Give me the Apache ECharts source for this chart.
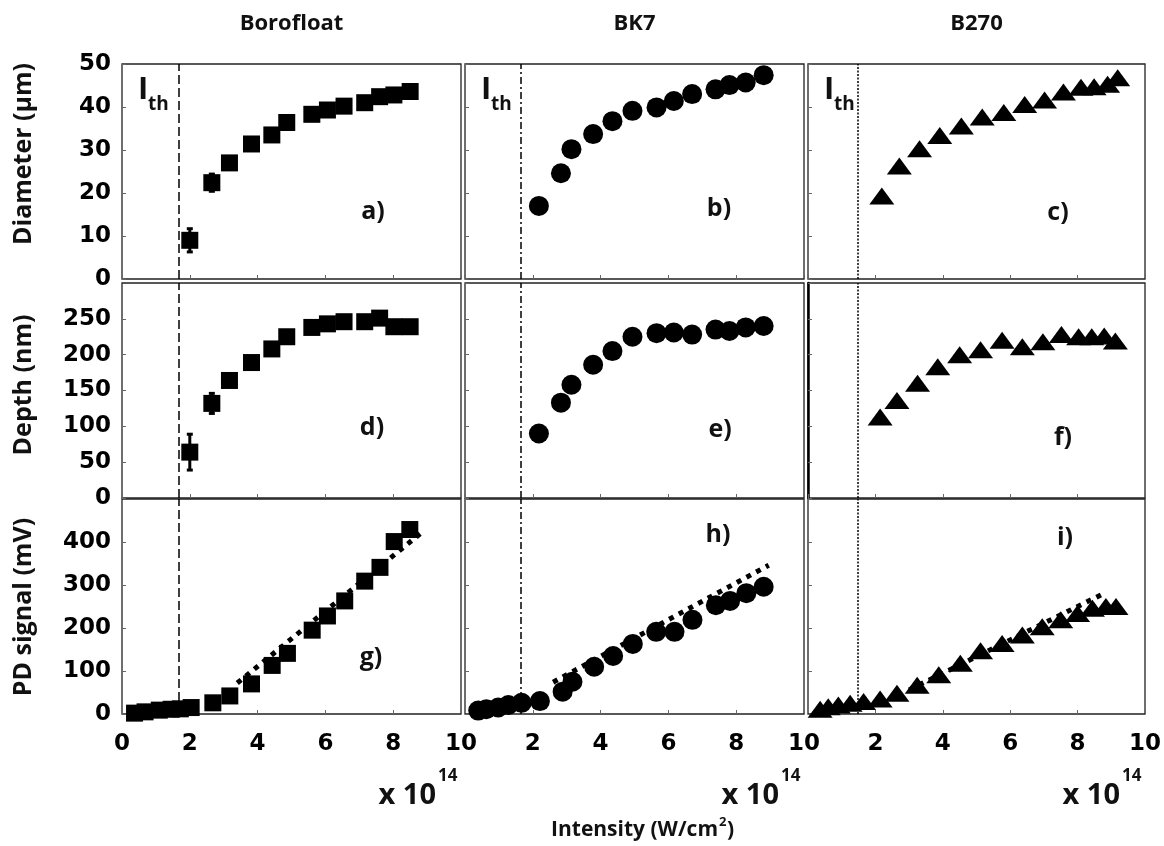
<!DOCTYPE html>
<html>
<head>
<meta charset="utf-8">
<script src="https://cdn.jsdelivr.net/npm/echarts@6/dist/echarts.min.js"></script>
<style>
  html, body { margin: 0; background: #fff; }
  #main { width: 1164px; height: 846px; }
</style>
</head>
<body>
<div id="main"></div>
<script>
// glass types (columns) and quantities (rows)
const glasses = ['Borofloat', 'BK7', 'B270'];
const rowNames = ['Diameter (µm)', 'Depth (nm)', 'PD signal (mV)'];
const panelTags = [['a)', 'b)', 'c)'], ['d)', 'e)', 'f)'], ['g)', 'h)', 'i)']];
const xTicks = [0, 2, 4, 6, 8, 10];
const yMax = [50, 300, 500];
const yStep = [10, 50, 100];
const threshold = [1.67, 1.65, 1.47];   // I_th, x 10^14 W/cm2

// Borofloat
const boroX = [2.0, 2.65, 3.17, 3.82, 4.42, 4.86, 5.6, 6.06, 6.55, 7.16, 7.6, 8.02, 8.5];
const boroDiam = [9, 22.4, 27.0, 31.4, 33.5, 36.4, 38.3, 39.3, 40.2, 41.0, 42.4, 42.8, 43.6];
const boroDiamErr = [2.7, 2.0, 0, 0, 0, 0, 0, 0, 0, 0, 0, 0, 0];
const boroDepth = [64, 132, 164, 189, 208, 225, 238, 243, 246, 246, 251, 239, 239];
const boroDepthErr = [25, 14, 0, 0, 0, 0, 0, 0, 0, 0, 0, 0, 0];
const boroPdX = [0.37, 0.68, 1.1, 1.45, 1.72, 2.04, 2.68, 3.18, 3.82, 4.43, 4.88, 5.61, 6.06, 6.57, 7.16, 7.61, 8.03, 8.49];
const boroPd = [2, 5, 9, 11, 12, 15, 26, 42, 70, 113, 141, 195, 228, 263, 309, 341, 401, 429];
const boroFitX = [3.4, 8.9];
const boroFit = [72, 426];

// BK7
const bk7X = [2.18, 2.83, 3.14, 3.78, 4.35, 4.94, 5.65, 6.16, 6.70, 7.39, 7.80, 8.28, 8.81];
const bk7Diam = [17.0, 24.6, 30.2, 33.7, 36.7, 39.1, 39.9, 41.4, 43.0, 44.1, 45.1, 45.7, 47.4];
const bk7Depth = [90, 133, 158, 186, 205, 225, 230, 231, 228, 235, 233, 238, 240];
const bk7PdX = [0.39, 0.63, 0.98, 1.28, 1.67, 2.21, 2.88, 3.17, 3.81, 4.37, 4.95, 5.64, 6.18, 6.71, 7.40, 7.82, 8.30, 8.81];
const bk7Pd = [8, 11, 15, 21, 26, 30, 52, 75, 110, 135, 163, 191, 191, 219, 253, 263, 281, 296];
const bk7FitX = [2.6, 8.96];
const bk7Fit = [74, 346];

// B270
const b270X = [2.19, 2.71, 3.31, 3.91, 4.55, 5.17, 5.81, 6.43, 7.02, 7.58, 8.10, 8.49, 8.89, 9.19];
const b270Diam = [19.3, 26.3, 30.3, 33.4, 35.6, 37.7, 38.7, 40.6, 41.6, 43.5, 44.6, 44.7, 45.3, 46.8];
const b270DepthX = [2.14, 2.64, 3.25, 3.85, 4.50, 5.12, 5.76, 6.36, 6.97, 7.52, 8.03, 8.42, 8.79, 9.12];
const b270Depth = [113, 136, 160, 183, 200, 207, 220, 211, 218, 228, 225, 225, 226, 219];
const b270PdX = [0.36, 0.60, 0.90, 1.25, 1.65, 2.14, 2.64, 3.24, 3.88, 4.52, 5.12, 5.76, 6.36, 6.95, 7.50, 8.00, 8.44, 8.84, 9.14];
const b270Pd = [11, 17, 21, 25, 29, 35, 48, 67, 91, 118, 147, 164, 184, 203, 219, 234, 246, 250, 250];
const b270FitX = [3.0, 8.8];
const b270Fit = [56, 281];

const zip = (xs, ys) => xs.map((x, i) => [x, ys[i]]);

const colLeft = [122, 465, 808];
const colWidth = [339, 339, 337];
const rowTop = [64, 283, 499];
const rowHeight = [215, 215, 215];

const markers = [
  { symbol: 'rect', symbolSize: 17 },
  { symbol: 'circle', symbolSize: 20 },
  { symbol: 'triangle', symbolSize: [25, 17] }
];
const thLineType = [[9, 4], [7, 3, 2, 3], [2, 1.5]];

const panelData = [
  [zip(boroX, boroDiam), zip(bk7X, bk7Diam), zip(b270X, b270Diam)],
  [zip(boroX, boroDepth), zip(bk7X, bk7Depth), zip(b270DepthX, b270Depth)],
  [zip(boroPdX, boroPd), zip(bk7PdX, bk7Pd), zip(b270PdX, b270Pd)]
];
const fitData = [zip(boroFitX, boroFit), zip(bk7FitX, bk7Fit), zip(b270FitX, b270Fit)];

const tickFont = { fontFamily: 'DejaVu Sans', fontWeight: 'bold', fontSize: 23, color: '#000' };
const grids = [], xAxes = [], yAxes = [], series = [];

for (let r = 0; r < 3; r++) {
  for (let c = 0; c < 3; c++) {
    const k = r * 3 + c;
    grids.push({
      left: colLeft[c], top: rowTop[r], width: colWidth[c], height: rowHeight[r],
      show: true, borderColor: '#222', borderWidth: 1.3, backgroundColor: 'transparent'
    });
    xAxes.push({
      gridIndex: k, type: 'value', min: xTicks[0], max: xTicks[xTicks.length - 1], interval: 2,
      axisLine: { show: false },
      axisTick: { inside: true, length: 4, lineStyle: { color: '#666' } },
      splitLine: { show: false },
      axisLabel: Object.assign({ show: r === 2, margin: 19, showMinLabel: c === 0 }, tickFont)
    });
    yAxes.push({
      gridIndex: k, type: 'value', min: 0, max: yMax[r], interval: yStep[r],
      axisLine: { show: r === 1 && c === 2, lineStyle: { color: '#000', width: 2.5 } },
      axisTick: { inside: true, length: 4, lineStyle: { color: '#666' } },
      splitLine: { show: false },
      axisLabel: Object.assign({ show: c === 0, margin: 11, showMaxLabel: r === 0 }, tickFont)
    });
    series.push({
      type: 'scatter', xAxisIndex: k, yAxisIndex: k,
      symbol: markers[c].symbol, symbolSize: markers[c].symbolSize,
      itemStyle: { color: '#000', opacity: 1 },
      data: panelData[r][c],
      z: 3,
      markLine: {
        silent: true, symbol: 'none', animation: false,
        label: { show: false },
        lineStyle: { color: '#000', width: 1.5, type: thLineType[c] },
        data: [{ xAxis: threshold[c] }]
      }
    });
    if (r === 2) {
      series.push({
        type: 'line', xAxisIndex: k, yAxisIndex: k, symbol: 'none', z: 4,
        lineStyle: { color: '#000', width: 5, type: [5, 6] },
        data: fitData[c]
      });
    }
  }
}

// error bars on the first Borofloat points
function errorBars(xs, ys, errs, k) {
  return {
    type: 'custom', xAxisIndex: k, yAxisIndex: k, z: 5,
    data: xs.map((x, i) => [x, ys[i], errs[i]]).filter(d => d[2] > 0),
    renderItem: (params, api) => {
      const x = api.value(0), y = api.value(1), e = api.value(2);
      const lo = api.coord([x, y - e]);
      const hi = api.coord([x, y + e]);
      const st = { stroke: '#000', lineWidth: 3 };
      return {
        type: 'group',
        children: [
          { type: 'line', shape: { x1: lo[0], y1: lo[1], x2: hi[0], y2: hi[1] }, style: st },
          { type: 'line', shape: { x1: lo[0] - 3, y1: lo[1], x2: lo[0] + 3, y2: lo[1] }, style: st },
          { type: 'line', shape: { x1: hi[0] - 3, y1: hi[1], x2: hi[0] + 3, y2: hi[1] }, style: st }
        ]
      };
    }
  };
}
series.push(errorBars(boroX, boroDiam, boroDiamErr, 0));
series.push(errorBars(boroX, boroDepth, boroDepthErr, 3));

const ff = '"Open Sans"';
const graphic = [];
glasses.forEach((g, c) => {
  const cx = colLeft[c] + colWidth[c] / 2;
  graphic.push({ type: 'text', x: cx, y: 24, style: { text: g, font: 'bold 22px ' + ff, fill: '#111', align: 'center', verticalAlign: 'middle' } });
  // I_th
  graphic.push({ type: 'text', x: colLeft[c] + 16, y: 106, style: { text: 'I', font: 'bold 31px ' + ff, fill: '#111', verticalAlign: 'bottom' } });
  graphic.push({ type: 'text', x: colLeft[c] + 26, y: 114, style: { text: 'th', font: 'bold 19px ' + ff, fill: '#111', verticalAlign: 'bottom' } });
  // x 10^14
  const rx = colLeft[c] + colWidth[c] - 25;
  graphic.push({ type: 'text', x: rx, y: 796, style: { text: 'x 10', font: 'bold 29px ' + ff, fill: '#111', align: 'right', verticalAlign: 'middle' } });
  graphic.push({ type: 'text', x: rx + 2, y: 776, style: { text: '14', font: 'bold 17px ' + ff, fill: '#111', align: 'left', verticalAlign: 'middle' } });
});
const tagPos = [
  [[373, 212], [719, 209], [1058, 213]],
  [[372, 428], [720, 430], [1063, 438]],
  [[371, 658], [718, 535], [1065, 538]]
];
for (let r = 0; r < 3; r++) {
  for (let c = 0; c < 3; c++) {
    graphic.push({ type: 'text', x: tagPos[r][c][0], y: tagPos[r][c][1], style: { text: panelTags[r][c], font: 'bold 25px ' + ff, fill: '#111', align: 'center', verticalAlign: 'middle' } });
  }
}
const rowTitleY = [154, 385, 607];
rowNames.forEach((n, r) => {
  graphic.push({ type: 'text', x: 24, y: rowTitleY[r], rotation: Math.PI / 2, style: { text: n, font: 'bold 25px ' + ff, fill: '#111', align: 'center', verticalAlign: 'middle' } });
});
graphic.push({ type: 'text', x: 718, y: 830, style: { text: 'Intensity (W/cm', font: 'bold 21px ' + ff, fill: '#111', align: 'right', verticalAlign: 'middle' } });
graphic.push({ type: 'text', x: 719, y: 822, style: { text: '2', font: 'bold 13px ' + ff, fill: '#111', align: 'left', verticalAlign: 'middle' } });
graphic.push({ type: 'text', x: 727, y: 830, style: { text: ')', font: 'bold 21px ' + ff, fill: '#111', align: 'left', verticalAlign: 'middle' } });

const chart = echarts.init(document.getElementById('main'));
chart.setOption({
  animation: false,
  backgroundColor: '#fff',
  grid: grids,
  xAxis: xAxes,
  yAxis: yAxes,
  series: series,
  graphic: graphic
});
</script>
</body>
</html>
